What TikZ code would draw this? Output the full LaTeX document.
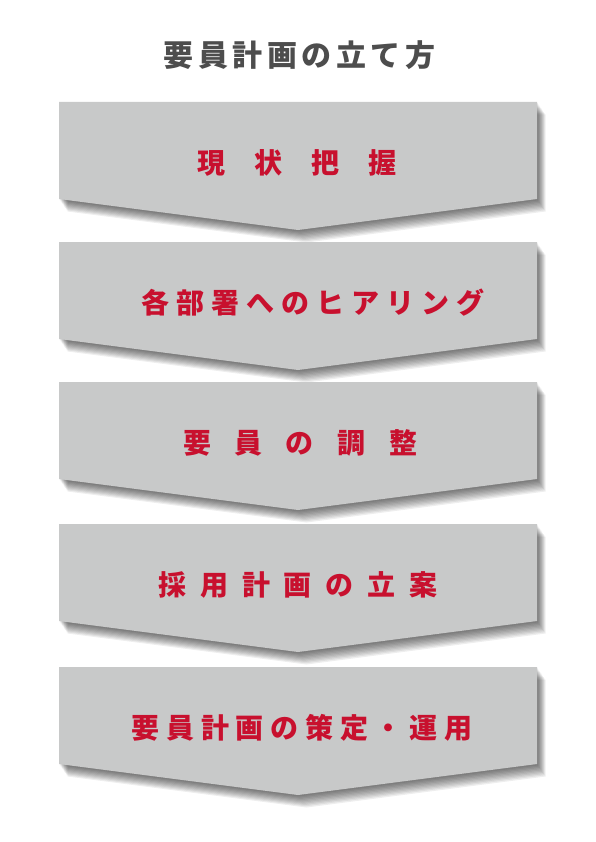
\documentclass[tikz,border=0pt]{standalone}
\usepackage{fontspec}
\newfontfamily\jp{Noto Sans CJK JP Black}
\definecolor{boxgray}{HTML}{C8C9C9}
\definecolor{txtred}{HTML}{C8102E}
\definecolor{ttlgray}{HTML}{4D4D4D}
\makeatletter
\newcommand\lsp[2]{\def\lspk{\kern#1pt}\lsploop#2\relax}
\def\lsploop#1{\ifx#1\relax\else#1\expandafter\lspnext\fi}
\def\lspnext#1{\ifx#1\relax\else\lspk#1\expandafter\lspnext\fi}
\makeatother
\tikzset{
  boxfill/.style={fill=boxgray},
  shadowlayer/.style={fill=black,fill opacity=0.065},
  steptext/.style={text=txtred,font=\jp\fontsize{28}{28}\selectfont,inner sep=0pt,anchor=center},
  titletext/.style={text=ttlgray,font=\jp\fontsize{30}{30}\selectfont,inner sep=0pt,anchor=center}
}
\newcommand\chevron[1]{(59,#1) -- (537,#1) -- (537,#1+97) -- (298,#1+128) -- (59,#1+97) -- cycle}
\begin{document}
\begin{tikzpicture}[x=1pt,y=-1pt]
\useasboundingbox (0,0) rectangle (595,842);
\fill[white] (0,0) rectangle (595,842);
\node[titletext] (title) at (299.5,55) {\lsp{4.5}{要員計画の立て方}};
\foreach \t in {102,242,382,524,667}{
  \foreach \i in {1,...,10}{
    \fill[shadowlayer,shift={(0.85*\i,1.25*\i)}] \chevron{\t};
  }
  \fill[boxfill] \chevron{\t};
}
\node[steptext] (s1) at (297,163) {\lsp{29}{現状把握}};
\node[steptext] (s2) at (313,303) {\lsp{7}{各部署へのヒアリング}};
\node[steptext] (s3) at (300,443) {\lsp{23.5}{要員の調整}};
\node[steptext] (s4) at (298,585) {\lsp{13.7}{採用計画の立案}};
\node[steptext] (s5) at (302,728) {\lsp{6.7}{要員計画の策定・運用}};
\end{tikzpicture}
\end{document}
